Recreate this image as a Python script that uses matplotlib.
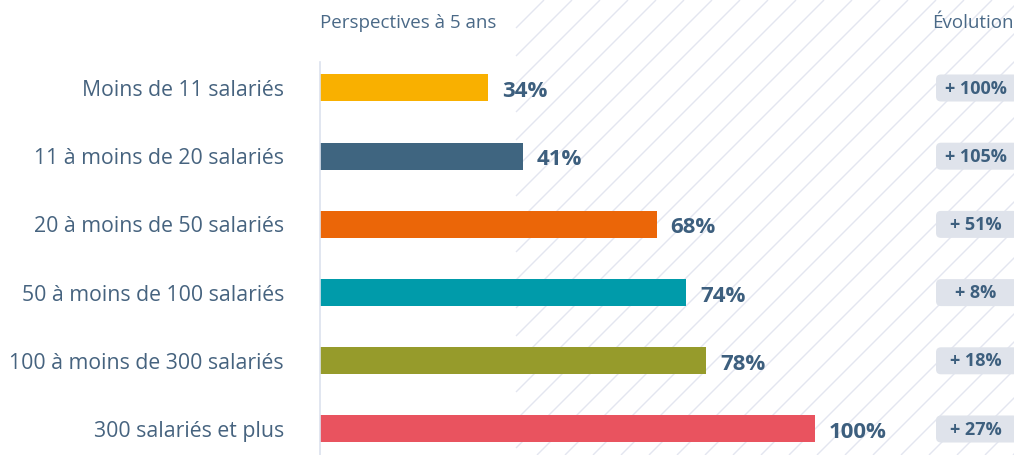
import matplotlib
matplotlib.use("Agg")
import matplotlib.pyplot as plt
from matplotlib.patches import FancyBboxPatch
import numpy as np

# ---- data ----
categories = ["Moins de 11 salariés", "11 à moins de 20 salariés", "20 à moins de 50 salariés",
              "50 à moins de 100 salariés", "100 à moins de 300 salariés", "300 salariés et plus"]
values = [34, 41, 68, 74, 78, 100]
evolution = ["+ 100%", "+ 105%", "+ 51%", "+ 8%", "+ 18%", "+ 27%"]
bar_colors = ["#F9B000", "#3F6580", "#EB6608", "#009BAA", "#969B2B", "#E9535F"]
header_left = "Perspectives à 5 ans"
header_right = "Évolution"

W, H = 1014, 455
DPI = 100
plt.rcParams['font.family'] = ['Open Sans', 'DejaVu Sans']

fig = plt.figure(figsize=(W / DPI, H / DPI), dpi=DPI)
fig.patch.set_facecolor("white")

# background hatch (decorative)
bg = fig.add_axes([0, 0, 1, 1], zorder=0)
bg.set_xlim(0, W)
bg.set_ylim(H, 0)
bg.axis("off")
x0 = 516
step = 28
for c in np.arange(x0 - H, W + step, step):
    xs = np.array([c, c + H])
    ys = np.array([H, 0])
    if xs[1] <= x0:
        continue
    if xs[0] < x0:
        ys0 = H - (x0 - xs[0])
        xs = np.array([x0, xs[1]])
        ys = np.array([ys0, 0])
    bg.plot(xs, ys, color="#E3E6F0", lw=1.0, solid_capstyle="butt")

# main axes
left_px, top_px = 320, 62
ax = fig.add_axes([left_px / W, 0, 1 - left_px / W, 1 - top_px / H], zorder=1)
ax.patch.set_alpha(0)
px_per_unit = 4.95
ax.set_xlim(0, (W - left_px) / px_per_unit)
row = 68.2
ax.set_ylim(5 + 26 / row, -26 / row)

y = np.arange(len(categories))
ax.barh(y, values, height=27 / row, color=bar_colors, zorder=2)

for s in ["top", "right", "bottom"]:
    ax.spines[s].set_visible(False)
ax.spines["left"].set_color("#DCE2EE")
ax.spines["left"].set_linewidth(1.2)
ax.set_xticks([])
ax.set_yticks(y)
ax.set_yticklabels(categories, fontsize=15.3, color="#46637F")
ax.tick_params(axis="y", length=0, pad=26)

for yi, v in zip(y, values):
    ax.annotate(f"{v}%", (v, yi), xytext=(10, -2.5), textcoords="offset points",
                ha="left", va="center", fontsize=16, fontweight="bold", color="#3D5F7E")

# evolution badges
ax_w_px = W - left_px
bx0 = (936 - left_px) / ax_w_px
bw = (1018 - 936) / ax_w_px
bh = 27 / row
r_x = 5 / ax_w_px
aspect = (5 / row) / r_x
trans = ax.get_yaxis_transform()
for yi, e in zip(y, evolution):
    p = FancyBboxPatch((bx0, yi - bh / 2), bw, bh,
                       boxstyle=f"round,pad=0,rounding_size={r_x}",
                       mutation_aspect=aspect, transform=trans,
                       facecolor="#DFE3EB", edgecolor="none", clip_on=False, zorder=3)
    ax.add_patch(p)
    ax.text((976 - left_px) / ax_w_px, yi + 0.01, e, transform=trans, ha="center", va="center",
            fontsize=13, fontweight="bold", color="#3D5F7E", zorder=4)

fig.text(320 / W, 1 - 23 / H, header_left, ha="left", va="center", fontsize=13.5, color="#4A6987")
fig.text(1014 / W, 1 - 23 / H, header_right, ha="right", va="center", fontsize=13.5, color="#4A6987")

fig.savefig("out.png", dpi=DPI)
